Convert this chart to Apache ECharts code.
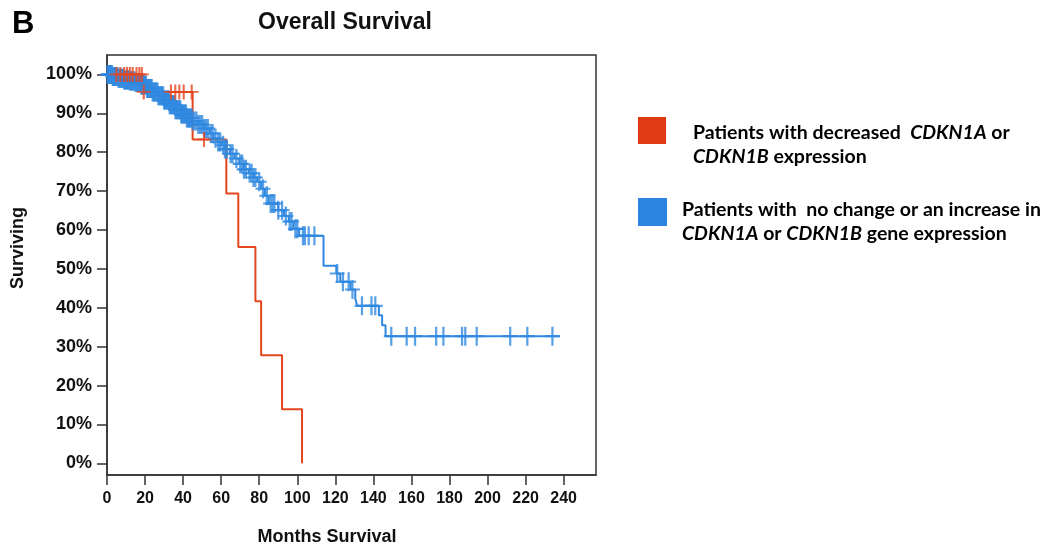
<!DOCTYPE html>
<html><head><meta charset="utf-8">
<script src="https://cdn.jsdelivr.net/npm/echarts@6/dist/echarts.min.js"></script>
<style>html,body{margin:0;padding:0;background:#fff}#c{width:1057px;height:548px}</style>
</head><body><div id="c"></div>
<script>
// ---- data ----
const xTicks = [0,20,40,60,80,100,120,140,160,180,200,220,240];
const yTicks = [0,10,20,30,40,50,60,70,80,90,100];
// decreased group: [month, survival % after event]
const redSteps = [[0,100],[18.8,95.5],[45,83.3],[62.7,69.4],[69,55.6],[78,41.7],[81,27.8],[92,13.9],[102.5,0]];
const redEnd = 102.5;
const redCensor = [5,7,9,10.5,12,13.5,15.5,17,18.3,19.3,33.6,35.9,38,40.3,44.5,51];
// no change / increase group
const blueSteps = [[0,100],[3,99.5],[6,99.0],[9,98.6],[12,98.3],[15,97.9],[18,97.3],[21,96.4],[24,95.5],[27,94.5],[30,93.4],[33,92.2],[36,90.9],[39,89.8],[42,88.8],[45,88.0],[48,87.1],[51,86.1],[54,84.8],[56,83.6],[58,82.6],[60,81.8],[62,80.8],[64.5,79.6],[67,78.4],[69.5,77.0],[72,75.6],[74.5,74.6],[77,73.5],[79,72.4],[81,70.6],[83,68.8],[85,66.8],[90,65.1],[93,63.6],[95.5,62.2],[98,60.3],[101,58.5],[113.8,50.8],[120.5,48.8],[122.6,46.7],[128,44.7],[130.5,42.3],[131.5,40.5],[142.9,38.1],[144.6,35.5],[146.4,32.7]];
const blueEnd = 238;
const blueCensor = [0.3,0.7,1,1.4,1.8,2.2,2.6,3,3.4,3.8,4.2,4.6,5,5.5,6,6.5,7,7.5,8,8.5,9,9.5,10,10.5,11,11.5,12,12.5,13,13.5,14,14.5,15,15.5,16,16.5,17,17.5,18,18.5,19,19.5,20,20.5,21,21.5,22,22.5,23,23.5,24,24.5,25,25.5,26,26.5,27,27.5,28,28.5,29,29.5,30,30.5,31,31.5,32,32.5,33,33.5,34,34.5,35,35.5,36,36.5,37,37.5,38,38.5,39,39.5,40,40.5,41,41.5,42,42.5,43,43.5,44,44.5,45,46,47,48,49,50,51,52,53,54.5,55.5,57,58.5,59.5,61,62,63,65,66,68,70,71,72,73,75,76,77,78,80,82,84,86,87,88,90,92,94,96,97,99,100,103,104,106,109,121,124,127,129,134,139,141,149.4,157.5,161.9,173,176.8,186.6,188.3,194.3,211.9,220.9,234.1];

const RED = '#e4461f', BLUE = '#2f88e0';
function lineData(steps, end){ const d = steps.map(s=>[s[0],s[1]]); const last = steps[steps.length-1]; if (end > last[0]) d.push([end,last[1]]); return d; }
function survAt(steps, t){ let v = steps[0][1]; for (const s of steps){ if (s[0] <= t) v = s[1]; } return v; }
const cross = 'path://M-0.15,-1L0.15,-1L0.15,1L-0.15,1ZM-1,-0.11L1,-0.11L1,0.11L-1,0.11Z';

const chart = echarts.init(document.getElementById('c'), null, {renderer:'canvas'});
const AX = '#333', TXT = '#111', F = 'Liberation Sans';
const rich = {n:{fontFamily:'Lato',fontWeight:'bold',fontSize:19.5,lineHeight:24,color:TXT},i:{fontFamily:'Lato',fontWeight:'bold',fontStyle:'italic',fontSize:19.5,lineHeight:24,color:TXT}};
chart.setOption({
  animation:false,
  backgroundColor:'#fff',
  grid:{left:107,top:55,width:489,height:420,show:true,borderColor:AX,borderWidth:1.5,backgroundColor:'transparent'},
  xAxis:{type:'value',min:0,max:257,
    axisLine:{show:true,onZero:false,lineStyle:{color:AX,width:1.5}},
    axisTick:{show:true,length:10,customValues:xTicks,lineStyle:{color:AX,width:1.5}},
    axisLabel:{customValues:xTicks,fontSize:16,fontWeight:'bold',color:TXT,fontFamily:F,margin:16},
    splitLine:{show:false}},
  yAxis:{type:'value',min:-3,max:105,
    axisLine:{show:true,onZero:false,lineStyle:{color:AX,width:1.5}},
    axisTick:{show:true,length:10,customValues:yTicks,lineStyle:{color:AX,width:1.5}},
    axisLabel:{customValues:yTicks,formatter:'{value}%',fontSize:18,fontWeight:'bold',color:TXT,fontFamily:F,margin:15},
    splitLine:{show:false}},
  series:[
    {type:'line',step:'end',data:lineData(redSteps,redEnd),symbol:'none',silent:true,z:2,lineStyle:{color:RED,width:2}},
    {type:'line',step:'end',data:lineData(blueSteps,blueEnd),symbol:'none',silent:true,z:3,lineStyle:{color:BLUE,width:2}},
    {type:'scatter',data:blueCensor.map(t=>[t,survAt(blueSteps,t)]),symbol:cross,symbolSize:[15,19],silent:true,z:4,itemStyle:{color:BLUE}},
    {type:'scatter',data:redCensor.map(t=>[t,survAt(redSteps,t)]),symbol:cross,symbolSize:[14,15],silent:true,z:5,itemStyle:{color:RED}}
  ],
  graphic:[
    {type:'text',left:12,top:9,style:{text:'B',font:'bold 31px "Liberation Sans"',fill:'#000'}},
    {type:'text',x:345,y:23,style:{text:'Overall Survival',font:'bold 23px "Liberation Sans"',fill:TXT,align:'center',verticalAlign:'middle'}},
    {type:'text',x:327,y:537,style:{text:'Months Survival',font:'bold 18px "Liberation Sans"',fill:TXT,align:'center',verticalAlign:'middle'}},
    {type:'text',x:18,y:248,rotation:Math.PI/2,style:{text:'Surviving',font:'bold 18px "Liberation Sans"',fill:TXT,align:'center',verticalAlign:'middle'}},
    {type:'rect',shape:{x:638,y:117,width:28,height:27},style:{fill:'#e03a12'}},
    {type:'rect',shape:{x:638,y:198,width:29,height:28},style:{fill:'#2a84e0'}},
    {type:'text',x:693,y:121,style:{text:'{n|Patients with decreased  }{i|CDKN1A}{n| or}\n{i|CDKN1B}{n| expression}',rich:rich}},
    {type:'text',x:682,y:198,style:{text:'{n|Patients with  no change or an increase in}\n{i|CDKN1A}{n| or }{i|CDKN1B}{n| gene expression}',rich:rich}}
  ]
});
</script></body></html>
